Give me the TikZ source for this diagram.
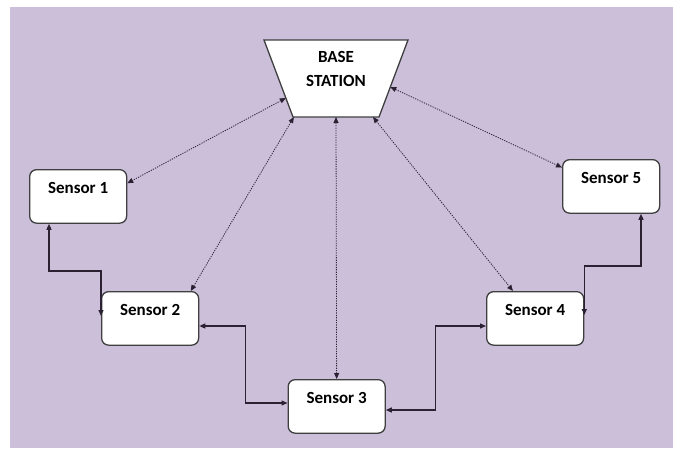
\documentclass[tikz,border=0pt]{standalone}
\usepackage{fontspec}
\setmainfont{Carlito}
\usetikzlibrary{arrows.meta,calc}
\definecolor{bgc}{HTML}{CBBFD9}
\definecolor{boxc}{HTML}{3F3F3F}
\definecolor{linec}{HTML}{2A2233}
\begin{document}
\begin{tikzpicture}[x=1pt,y=-1pt,
  sensor/.style={draw=boxc, line width=1.3pt, fill=white, rounded corners=7pt,
    minimum width=97pt, inner xsep=0pt, inner ysep=0pt,
    text height=23.5pt, text depth=30pt,
    font=\fontsize{17}{20}\selectfont\bfseries, anchor=north west},
  basest/.style={draw=boxc, line width=1.3pt, fill=white, line join=miter},
  basetext/.style={font=\fontsize{17}{24}\selectfont\bfseries, align=center, inner sep=0pt},
  dotlink/.style={draw=linec, line width=0.8pt, dash pattern=on 1.2pt off 1.2pt,
    {Triangle[length=6pt,width=5pt]}-{Triangle[length=6pt,width=5pt]}},
  solidlink/.style={draw=linec, line width=1.3pt,
    {Triangle[length=6pt,width=5pt]}-{Triangle[length=6pt,width=5pt]}}
]
\useasboundingbox (0,0) rectangle (678,448);
\fill[bgc] (10,7) rectangle (673,448);

% base station (trapezoid)
\draw[basest] (264,40) coordinate (btl) -- (408,40) coordinate (btr)
  -- (379,117) coordinate (bbr) -- (293,117) coordinate (bbl) -- cycle;
\node[basetext] (bstext) at (336,69) {BASE\\STATION};
\coordinate (bsleft) at ($(btl)!0.753!(bbl)$);
\coordinate (bsright) at ($(btr)!0.61!(bbr)$);
\coordinate (bsbl) at ($(bbl)!0.01!(bbr)$);
\coordinate (bsbc) at ($(bbl)!0.5!(bbr)$);
\coordinate (bsbr) at ($(bbl)!0.93!(bbr)$);

\node[sensor] (s1) at (29,169) {Sensor 1};
\node[sensor] (s2) at (101,291) {Sensor 2};
\node[sensor] (s3) at (287.5,379) {Sensor 3};
\node[sensor] (s4) at (486,291) {Sensor 4};
\node[sensor] (s5) at (562,159) {Sensor 5};

% dotted wireless links
\draw[dotlink] (bsleft) -- (s1.15);
\draw[dotlink] (bsbl) -- (s2.34);
\draw[dotlink] (bsbc) -- (s3.north);
\draw[dotlink] (bsbr) -- (s4.129);
\draw[dotlink] (bsright) -- (s5.159);

% solid wired links
\draw[solidlink] ($(s1.south west)+(20,0)$) |- ($(s2.north west)+(0,-20)$) -- ($(s2.north west)+(0,25)$);
\draw[solidlink] ($(s2.north east)+(0,35)$) -- ($(s2.north east)+(46,35)$) |- ($(s3.north west)+(0,24)$);
\draw[solidlink] ($(s3.north east)+(0,31)$) -- ($(s3.north east)+(50,31)$) |- ($(s4.north west)+(0,35)$);
\draw[solidlink] ($(s4.north east)+(0,24)$) -- ($(s4.north east)+(0,-25)$) -| ($(s5.south west)+(79,0)$);
\end{tikzpicture}
\end{document}
